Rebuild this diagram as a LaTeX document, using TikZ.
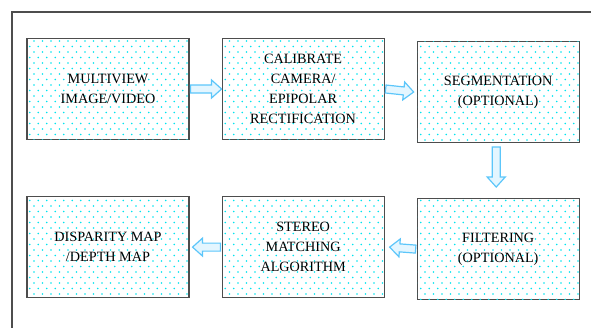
\documentclass[tikz,border=0pt]{standalone}
\usepackage{fontspec}
\setmainfont{Liberation Serif}
\newfontfamily\boxfont{Liberation Serif}
\usetikzlibrary{calc,positioning,patterns}
\definecolor{edge}{HTML}{4D4D4D}
\definecolor{dotc}{HTML}{00E4F0}
\definecolor{flow}{HTML}{5CC6FA}
\definecolor{flowfill}{HTML}{E4F6FF}

% staggered dot grid for the box fill
\pgfdeclarepatternformonly{cyandots}{\pgfqpoint{-1pt}{-1pt}}{\pgfqpoint{9.5pt}{12pt}}%
 {\pgfqpoint{8.5pt}{11pt}}{%
 \pgfpathcircle{\pgfqpoint{0pt}{0pt}}{0.8pt}%
 \pgfpathcircle{\pgfqpoint{4.25pt}{5.5pt}}{0.8pt}%
 \pgfusepath{fill}}

\begin{document}
\begin{tikzpicture}[node distance=55pt and 32pt,
 box/.style={draw=edge,line width=1.1pt,fill=white,
 postaction={pattern=cyandots,pattern color=dotc},
 minimum width=162pt,minimum height=101pt,align=center,
 font=\boxfont\fontsize{14.2}{20}\selectfont},
 blk/.style={draw=flow,fill=flowfill,line width=1.2pt,line join=miter,
 to path={($(\tikztostart)!4pt!90:(\tikztotarget)$)
 -- ($($(\tikztotarget)!10pt!(\tikztostart)$)!4pt!90:(\tikztotarget)$)
 -- ($($(\tikztotarget)!10pt!(\tikztostart)$)!9pt!90:(\tikztotarget)$)
 -- (\tikztotarget)
 -- ($($(\tikztotarget)!10pt!(\tikztostart)$)!9pt!-90:(\tikztotarget)$)
 -- ($($(\tikztotarget)!10pt!(\tikztostart)$)!4pt!-90:(\tikztotarget)$)
 -- ($(\tikztostart)!4pt!-90:(\tikztotarget)$) -- cycle}}]
\clip (0,0) rectangle (591pt,-327pt);
% outer frame, runs off the page on the right and at the bottom
\draw[edge,line width=1.3pt] (12pt,-340pt) |- (600pt,-12pt);

\node[box] (mview) at (108pt,-89pt) {MULTIVIEW\\IMAGE/VIDEO};
\node[box,right=of mview] (calib) {CALIBRATE\\CAMERA/\\EPIPOLAR\\RECTIFICATION};
\node[box,right=of calib,yshift=-3pt] (segm) {SEGMENTATION\\(OPTIONAL)};
\node[box,below=of segm] (filt) {FILTERING\\(OPTIONAL)};
\node[box,left=of filt,yshift=2pt] (stereo) {STEREO\\MATCHING\\ALGORITHM};
\node[box,left=of stereo] (disp) {DISPARITY MAP\\/DEPTH MAP};

\draw[blk] ([xshift=1pt]mview.east) to (calib.west);
\draw[blk] ([xshift=1pt]calib.east) to ([xshift=-3pt]segm.west);
\draw[blk] ([xshift=-2pt,yshift=-4pt]segm.south) to ([xshift=-2pt,yshift=11pt]filt.north);
\draw[blk] ([xshift=-1pt]filt.west) to ([xshift=5pt]stereo.east);
\draw[blk] ([xshift=-1pt]stereo.west) to ([xshift=3pt]disp.east);
\end{tikzpicture}
\end{document}
